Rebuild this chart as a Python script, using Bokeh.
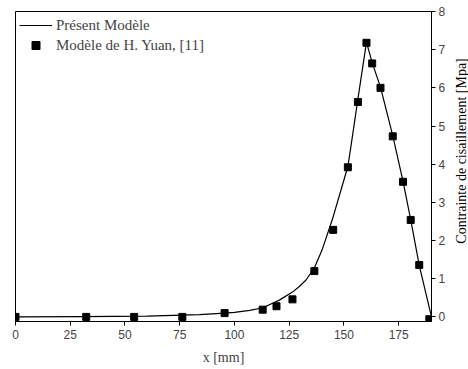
import math
from bokeh.plotting import figure
from bokeh.layouts import row
from bokeh.models import Range1d, Legend, LegendItem
from bokeh.core.properties import value
from bokeh.embed import file_html
from bokeh.resources import INLINE

# Present model curve
curve_x = [0, 30, 60, 84, 95.5, 100, 107, 113, 120.5, 126.5, 129.5, 132.6, 136.5, 140, 144.7, 148.8,
           151.8, 153, 156.4, 160.3, 162.9, 166.7, 172.3, 177.0, 180.5, 184.4, 190]
curve_y = [0.0, 0.01, 0.02, 0.06, 0.1, 0.12, 0.17, 0.24, 0.44, 0.65, 0.79, 0.96, 1.28, 1.75, 2.55, 3.35,
           3.94, 4.39, 5.71, 7.2, 6.66, 6.02, 4.75, 3.55, 2.55, 1.35, 0.0]

# H. Yuan model points
yuan_x = [0, 32.3, 54.2, 76.2, 95.5, 112.9, 119.2, 126.5, 136.5, 145.1, 151.8, 156.4, 160.3, 162.9,
          166.7, 172.3, 177.0, 180.5, 184.4, 189.0]
yuan_y = [0.0, 0.0, 0.0, 0.0, 0.1, 0.19, 0.28, 0.46, 1.2, 2.28, 3.92, 5.63, 7.18, 6.64,
          6.0, 4.73, 3.54, 2.54, 1.36, -0.06]

x_ticks = [0, 25, 50, 75, 100, 125, 150, 175]
y_ticks = [0, 1, 2, 3, 4, 5, 6, 7, 8]
y_title = "Contrainte de cisaillement [Mpa]"

p = figure(width=448, height=369, output_backend="svg", toolbar_location=None,
           x_range=Range1d(0, 190), y_range=Range1d(-0.12, 8),
           y_axis_location="right",
           min_border_left=15, min_border_top=11, min_border_bottom=48, min_border_right=15)
p.background_fill_color = "white"
p.border_fill_color = "white"
p.outline_line_color = "black"
p.outline_line_width = 1
p.xgrid.visible = False
p.ygrid.visible = False

l1 = p.line(curve_x, curve_y, line_color="black", line_width=1.2)
s1 = p.scatter(yuan_x, yuan_y, marker="square", size=7, fill_color="black", line_color="black")

xa = p.xaxis[0]
xa.ticker = x_ticks
xa.ticker.num_minor_ticks = 2
xa.axis_label = "x [mm]"
xa.axis_label_text_font = "Liberation Serif"
xa.axis_label_text_font_style = "normal"
xa.axis_label_text_font_size = "14px"
xa.axis_label_standoff = 8
xa.major_label_text_font = "Liberation Sans"
xa.major_label_text_font_size = "12px"
xa.major_label_standoff = 4
xa.major_tick_in = 0
xa.major_tick_out = 4
xa.minor_tick_in = 0
xa.minor_tick_out = 2
xa.axis_line_color = "black"

ya = p.yaxis[0]
ya.ticker = y_ticks
ya.ticker.num_minor_ticks = 2
ya.major_label_text_font = "Liberation Sans"
ya.major_label_text_font_size = "12px"
ya.major_label_standoff = 3
ya.major_tick_in = 0
ya.major_tick_out = 4
ya.minor_tick_in = 0
ya.minor_tick_out = 2
ya.axis_line_color = "black"

legend = Legend(items=[LegendItem(label="Présent Modèle", renderers=[l1]),
                       LegendItem(label="Modèle de H. Yuan, [11]", renderers=[s1])],
                location="top_left", margin=4, padding=0, spacing=0,
                glyph_width=33, glyph_height=20, label_height=20, label_standoff=4,
                border_line_color=None, background_fill_alpha=0,
                label_text_font="Liberation Serif", label_text_font_size="15px")
p.add_layout(legend)

# narrow side panel holding the vertical y-axis title (reads bottom to top)
p2 = figure(width=20, height=369, output_backend="svg", toolbar_location=None,
            x_range=Range1d(0, 20), y_range=Range1d(0, 369),
            x_axis_type=None, y_axis_type=None,
            min_border_left=0, min_border_right=0, min_border_top=0, min_border_bottom=0)
p2.outline_line_color = None
p2.background_fill_color = "white"
p2.border_fill_color = "white"
p2.xgrid.visible = False
p2.ygrid.visible = False
p2.text(x=[13], y=[369 - 166], text=[y_title], angle=math.pi / 2,
        text_align="center", text_baseline="middle",
        text_font=value("Liberation Serif"), text_font_size="14px", text_color="black")

layout = row(p, p2, spacing=0)
open("out.html", "w").write(file_html(layout, INLINE))
